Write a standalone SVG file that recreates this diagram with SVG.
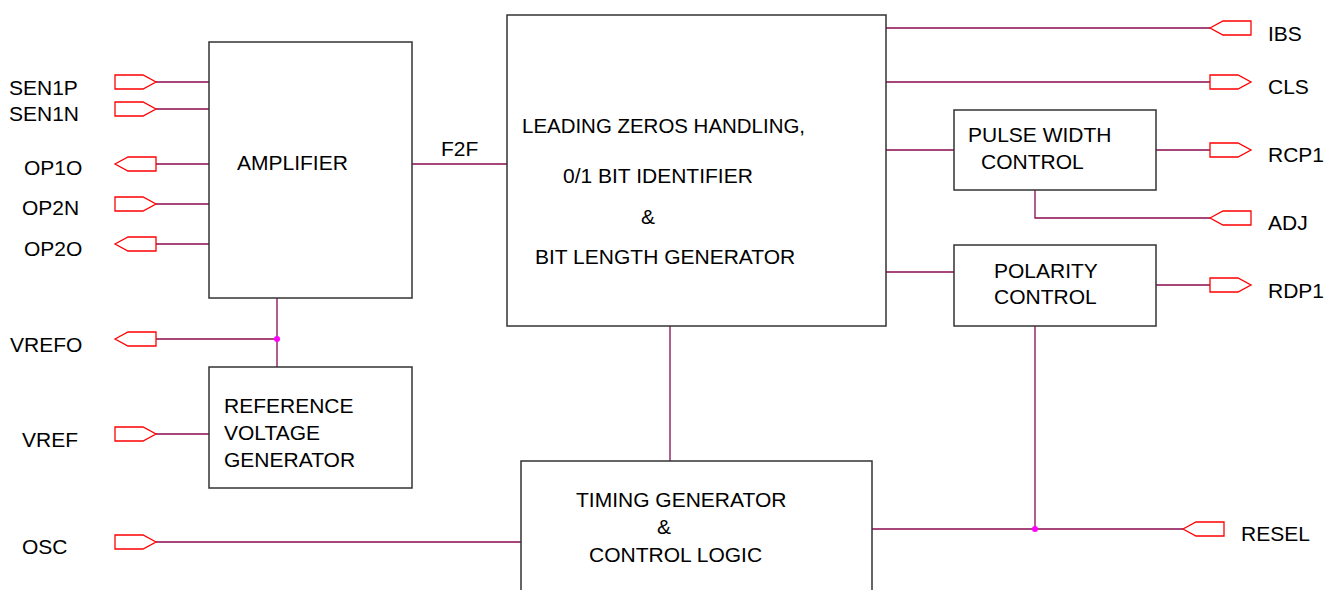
<svg xmlns="http://www.w3.org/2000/svg" width="1338" height="590" viewBox="0 0 1338 590">
<defs>
<style>
text{font-family:"Liberation Sans",Arial,sans-serif;font-size:21px;fill:#000}
.box{fill:#fff;stroke:#333;stroke-width:1.5}
.w{stroke:#8B0A50;stroke-width:1.3;fill:none}
.p{fill:#fff;stroke:#f00;stroke-width:1.3}
.j{fill:#f0f}
</style>
<path id="pin" class="p" d="M0,-7 H28 L41,0 L28,7 H0 Z"/>
<path id="pout" class="p" d="M0,0 L13,-7 H41 V7 H13 Z"/>
</defs>
<rect width="1338" height="590" fill="#fff"/>
<g id="connectors">
<path class="w" d="M156,82H209M156,109H209M156,164H209M156,204H209M156,244H209"/>
<path class="w" d="M277,298V367M156,339H277M156,434H209"/>
<path class="w" d="M412,164H507M156,542H521M670,326V461"/>
<path class="w" d="M886,28H1210M886,82H1210M886,150H954M1156,150H1210"/>
<path class="w" d="M1035,190V218H1210M886,272H954M1156,285H1210"/>
<path class="w" d="M1035,326V529M872,529H1183"/>
<circle class="j" cx="277" cy="339" r="3"/>
<circle class="j" cx="1035" cy="529" r="3"/>
<text x="441" y="156">F2F</text>
</g>
<g id="amplifier">
<rect class="box" x="209" y="42" width="203" height="256"/>
<text x="237" y="170">AMPLIFIER</text>
</g>
<g id="reference">
<rect class="box" x="209" y="367" width="203" height="121"/>
<text x="224" y="413">REFERENCE</text>
<text x="224" y="440">VOLTAGE</text>
<text x="224" y="467">GENERATOR</text>
</g>
<g id="leading">
<rect class="box" x="507" y="15" width="379" height="311"/>
<text x="522" y="133" textLength="283" lengthAdjust="spacingAndGlyphs">LEADING ZEROS HANDLING,</text>
<text x="563" y="183">0/1 BIT IDENTIFIER</text>
<text x="641" y="224">&amp;</text>
<text x="535" y="264">BIT LENGTH GENERATOR</text>
</g>
<g id="timing">
<rect class="box" x="521" y="461" width="351" height="140"/>
<text x="576" y="507">TIMING GENERATOR</text>
<text x="657" y="534">&amp;</text>
<text x="589" y="562">CONTROL LOGIC</text>
</g>
<g id="pulse">
<rect class="box" x="954" y="110" width="202" height="80"/>
<text x="968" y="142">PULSE WIDTH</text>
<text x="981" y="169">CONTROL</text>
</g>
<g id="polarity">
<rect class="box" x="954" y="245" width="202" height="81"/>
<text x="994" y="278">POLARITY</text>
<text x="994" y="304">CONTROL</text>
</g>
<g id="port-SEN1P"><use href="#pin" x="115" y="82"/><text x="9" y="95">SEN1P</text></g>
<g id="port-SEN1N"><use href="#pin" x="115" y="109"/><text x="9" y="121">SEN1N</text></g>
<g id="port-OP1O"><use href="#pout" x="115" y="164"/><text x="24" y="175">OP1O</text></g>
<g id="port-OP2N"><use href="#pin" x="115" y="204"/><text x="22" y="215">OP2N</text></g>
<g id="port-OP2O"><use href="#pout" x="115" y="244"/><text x="24" y="256">OP2O</text></g>
<g id="port-VREFO"><use href="#pout" x="115" y="339"/><text x="10" y="352">VREFO</text></g>
<g id="port-VREF"><use href="#pin" x="115" y="434"/><text x="22" y="447">VREF</text></g>
<g id="port-OSC"><use href="#pin" x="115" y="542"/><text x="22" y="554">OSC</text></g>
<g id="port-IBS"><use href="#pout" x="1210" y="28"/><text x="1268" y="41">IBS</text></g>
<g id="port-CLS"><use href="#pin" x="1210" y="82"/><text x="1268" y="94">CLS</text></g>
<g id="port-RCP1"><use href="#pin" x="1210" y="150"/><text x="1268" y="162">RCP1</text></g>
<g id="port-ADJ"><use href="#pout" x="1210" y="218"/><text x="1268" y="230">ADJ</text></g>
<g id="port-RDP1"><use href="#pin" x="1210" y="285"/><text x="1268" y="298">RDP1</text></g>
<g id="port-RESEL"><use href="#pout" x="1183" y="529"/><text x="1241" y="541">RESEL</text></g>
</svg>
